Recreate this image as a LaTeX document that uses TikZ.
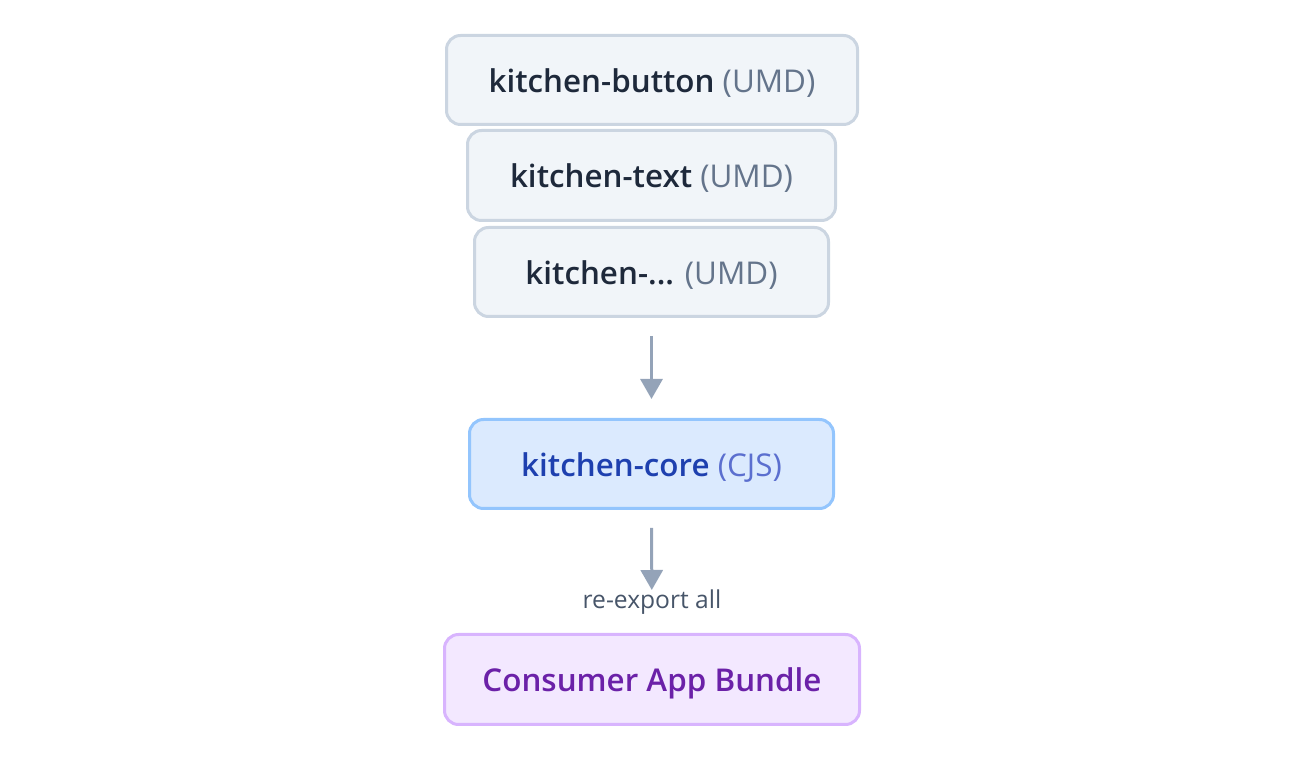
\documentclass[tikz,border=0pt]{standalone}
\usepackage{fontspec}
\setmainfont{Open Sans}[BoldFont={Open Sans Semibold}]
\usetikzlibrary{arrows.meta}
\definecolor{slateBorder}{HTML}{CBD5E1}
\definecolor{slateFill}{HTML}{F1F5F9}
\definecolor{slateText}{HTML}{1E293B}
\definecolor{slateSub}{HTML}{64748B}
\definecolor{blueBorder}{HTML}{93C5FD}
\definecolor{blueFill}{HTML}{DBEAFE}
\definecolor{blueText}{HTML}{1E40AF}
\definecolor{blueSub}{HTML}{5B6FCF}
\definecolor{purpBorder}{HTML}{D8B4FE}
\definecolor{purpFill}{HTML}{F3E8FF}
\definecolor{purpText}{HTML}{6B21A8}
\definecolor{arrowCol}{HTML}{94A3B8}
\definecolor{labelCol}{HTML}{475569}
\begin{document}
\begin{tikzpicture}[x=0.5pt,y=-0.5pt,
  box/.style={rounded corners=7pt, line width=1.5pt, inner sep=0pt,
    text height=14pt, text depth=1.7pt,
    font=\fontsize{15.7}{18}\selectfont},
  umd/.style={box, draw=slateBorder, fill=slateFill, text=slateText},
  cjs/.style={box, draw=blueBorder, fill=blueFill, text=blueText},
  app/.style={box, draw=purpBorder, fill=purpFill, text=purpText},
  arr/.style={draw=arrowCol, line width=1.5pt, -{Triangle[width=11pt,length=10pt]}},
  lbl/.style={text=labelCol, font=\fontsize{12.3}{14}\selectfont, inner sep=0pt}]
\useasboundingbox (0,0) rectangle (1302,758);
\node[umd, minimum width=205.5pt, minimum height=44.5pt] (b1) at (652,80)
  {\textbf{kitchen-button} \textcolor{slateSub}{(UMD)}};
\node[umd, minimum width=184pt, minimum height=45pt] (b2) at (651.5,175.5)
  {\textbf{kitchen-text} \textcolor{slateSub}{(UMD)}};
\node[umd, minimum width=177pt, minimum height=44.5pt] (b3) at (651.5,272)
  {\textbf{kitchen-...} \textcolor{slateSub}{(UMD)}};
\node[cjs, minimum width=182pt, minimum height=44.5pt] (core) at (651.5,464)
  {\textbf{kitchen-core} \textcolor{blueSub}{(CJS)}};
\node[app, minimum width=207.5pt, minimum height=45pt] (bundle) at (652,679.5)
  {\textbf{Consumer App Bundle}};
\node[lbl] (re) at (652,602) {re-export all};
\draw[arr, shorten <=9pt, shorten >=9.5pt] (b3) -- (core);
\draw[arr, shorten <=9pt, shorten >=21.5pt] (core) -- (bundle);
\end{tikzpicture}
\end{document}
